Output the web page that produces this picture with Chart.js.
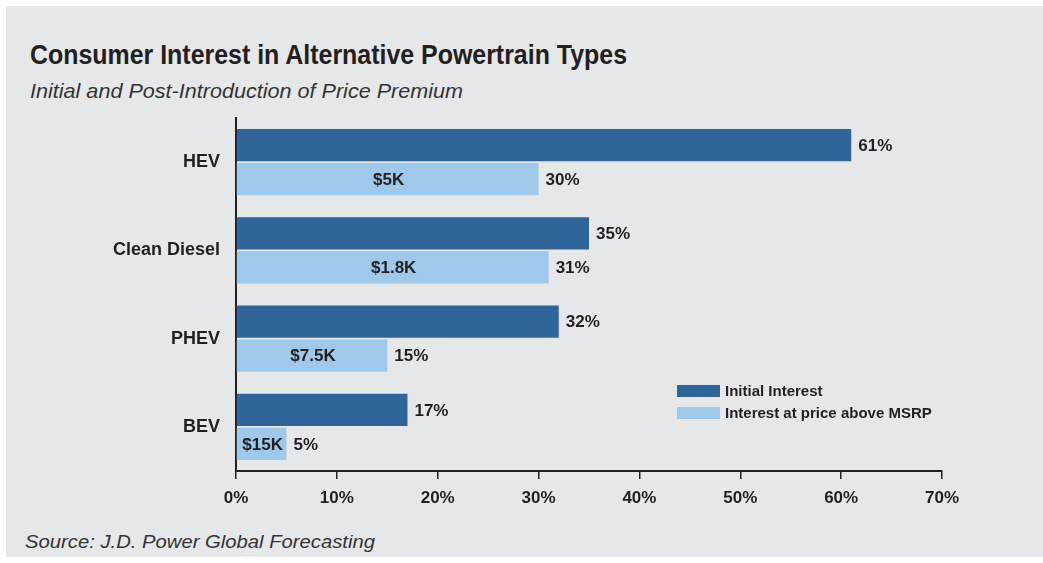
<!DOCTYPE html>
<html>
<head>
<meta charset="utf-8">
<script src="https://cdn.jsdelivr.net/npm/chart.js@4.4.3/dist/chart.umd.min.js"></script>
<style>
  body { margin: 0; background: #fff; width: 1043px; height: 563px; position: relative; overflow: hidden; }
  .panel { position: absolute; left: 6px; top: 6px; width: 1037px; height: 551px; background: #e6e7e9; }
  .txt { position: absolute; line-height: 1; white-space: nowrap; color: #231f20; transform-origin: 0 0; }
  .title { left: 30px; top: 39px; font: bold 28px "Liberation Sans", Arial, sans-serif; }
  .subtitle { left: 30px; top: 79px; font: italic 21px "Liberation Sans", Arial, sans-serif; color: #333; }
  .source { left: 25px; top: 531px; font: italic 19px "Liberation Sans", Arial, sans-serif; color: #333; }
  canvas { position: absolute; left: 0; top: 0; }
</style>
</head>
<body>
<div class="panel"></div>
<div class="txt title" data-w="597">Consumer Interest in Alternative Powertrain Types</div>
<div class="txt subtitle" data-w="433">Initial and Post-Introduction of Price Premium</div>
<div class="txt source" data-w="350">Source: J.D. Power Global Forecasting</div>
<canvas id="chart" width="1043" height="563"></canvas>
<script>
const categories = ['HEV', 'Clean Diesel', 'PHEV', 'BEV'];
const initialInterest = [61, 35, 32, 17];
const premiumInterest = [30, 31, 15, 5];
const premiumPrices = ['$5K', '$1.8K', '$7.5K', '$15K'];
const xTicks = [0, 10, 20, 30, 40, 50, 60, 70];

const ink = '#231f20';
const darkBlue = '#2f6599';
const lightBlue = '#9ec9eb';
const fontFamily = '"Liberation Sans", Arial, sans-serif';

// squeeze the heading texts to the condensed widths of the original
document.querySelectorAll('.txt[data-w]').forEach(el => {
  const w = el.getBoundingClientRect().width;
  el.style.transform = 'scaleX(' + (Number(el.dataset.w) / w) + ')';
});

// value labels at bar ends + price labels inside the light bars
const barLabels = {
  id: 'barLabels',
  afterDatasetsDraw(chart) {
    const { ctx } = chart;
    ctx.save();
    ctx.font = 'bold 17px ' + fontFamily;
    ctx.fillStyle = ink;
    ctx.textBaseline = 'middle';
    chart.data.datasets.forEach((ds, di) => {
      chart.getDatasetMeta(di).data.forEach((bar, i) => {
        ctx.textAlign = 'left';
        ctx.fillText(ds.data[i] + '%', bar.x + 7, bar.y + 1);
        if (di === 1) {
          ctx.textAlign = 'center';
          ctx.fillText(premiumPrices[i], (bar.base + bar.x) / 2 + 1, bar.y + 1);
        }
      });
    });
    ctx.restore();
  }
};

// legend drawn inside the plot area
const innerLegend = {
  id: 'innerLegend',
  afterDraw(chart) {
    const { ctx } = chart;
    ctx.save();
    ctx.font = 'bold 15px ' + fontFamily;
    ctx.textBaseline = 'middle';
    ctx.textAlign = 'left';
    chart.data.datasets.forEach((ds, i) => {
      const y = 385 + i * 22;
      ctx.fillStyle = ds.backgroundColor;
      ctx.fillRect(677, y, 43, 12);
      ctx.fillStyle = ink;
      ctx.fillText(ds.label, 725, y + 6.5);
    });
    ctx.restore();
  }
};

new Chart(document.getElementById('chart'), {
  type: 'bar',
  data: {
    labels: categories,
    datasets: [
      { label: 'Initial Interest', data: initialInterest, backgroundColor: darkBlue },
      { label: 'Interest at price above MSRP', data: premiumInterest, backgroundColor: lightBlue }
    ]
  },
  options: {
    indexAxis: 'y',
    responsive: false,
    animation: false,
    categoryPercentage: 0.77,
    barPercentage: 0.95,
    layout: { padding: { left: 0, right: 101, top: 118, bottom: 0 } },
    plugins: { legend: { display: false }, tooltip: { enabled: false } },
    scales: {
      x: {
        min: 0,
        max: 70,
        afterBuildTicks: (scale) => { scale.ticks = xTicks.map(v => ({ value: v })); },
        afterFit: (scale) => { scale.height = 92; },
        border: { display: true, color: ink, width: 2 },
        grid: { display: true, drawOnChartArea: false, drawTicks: true, tickLength: 8, color: ink, lineWidth: 1.5 },
        ticks: {
          padding: 9,
          color: ink,
          font: { family: fontFamily, size: 17, weight: 'bold' },
          callback: (v) => v + '%'
        }
      },
      y: {
        afterFit: (scale) => { scale.width = 236; },
        border: { display: true, color: ink, width: 2 },
        grid: { display: false, drawTicks: false },
        ticks: {
          padding: 16,
          color: ink,
          font: { family: fontFamily, size: 18, weight: 'bold' }
        }
      }
    }
  },
  plugins: [barLabels, innerLegend]
});
</script>
</body>
</html>
